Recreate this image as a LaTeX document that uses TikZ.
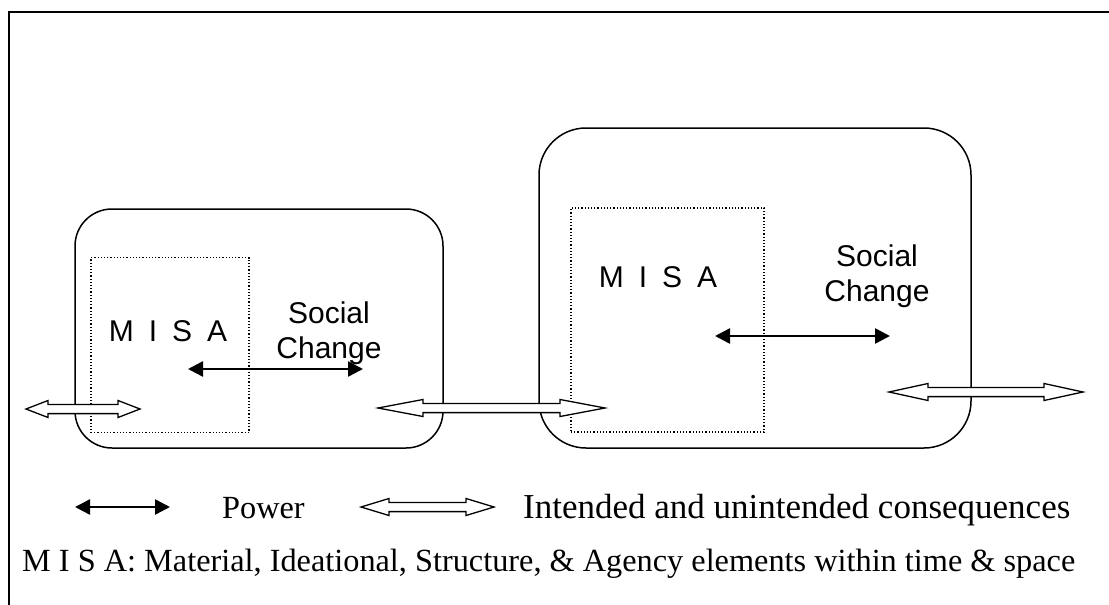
\documentclass[tikz,border=0pt]{standalone}
\usepackage{fontspec}
\setmainfont{Liberation Serif}
\newfontfamily\arialfont{Liberation Sans}
\usetikzlibrary{arrows.meta}
% hollow double arrow: #1 name, #2 left x, #3 right x, #4 y, #5 head length
\newcommand\hollowarrow[5]{%
  \coordinate (#1a) at (#2,#4);
  \coordinate (#1b) at (#3,#4);
  \draw[hollow] (#1a) -- ({#2+#5},{#4-8.5}) -- ({#2+#5},{#4-4.6}) -- ({#3-#5},{#4-4.6})
    -- ({#3-#5},{#4-8.5}) -- (#1b) -- ({#3-#5},{#4+8.5}) -- ({#3-#5},{#4+4.6})
    -- ({#2+#5},{#4+4.6}) -- ({#2+#5},{#4+8.5}) -- cycle;}
\begin{document}
\begin{tikzpicture}[x=1pt,y=-1pt,
  cbox/.style={draw,line width=1.5pt,inner sep=0pt},
  dbox/.style={draw,dotted,line width=1.2pt,inner sep=0pt},
  hollow/.style={draw,fill=white,line width=1.3pt,line join=miter},
  power/.style={line width=2.5pt,{Triangle[length=15pt,width=15pt]}-{Triangle[length=15pt,width=15pt]}},
  sanslab/.style={font=\arialfont\fontsize{30}{35}\selectfont,inner sep=0pt,align=center},
  serlab/.style={font=\fontsize{32.3}{38}\selectfont,inner sep=0pt,anchor=base west}]
\useasboundingbox (0,0) rectangle (1109,605);
% frame
\coordinate (ftl) at (9,12);
\coordinate (ftr) at (1109,12);
\coordinate (fbl) at (9,605);
\draw[line width=2pt] (ftr) -- (ftl) -- (fbl);
% left group
\node[cbox,rounded corners=37pt,minimum width=368pt,minimum height=239pt] (lbox) at (259,328.5) {};
\node[dbox,minimum width=158pt,minimum height=175pt] (ldot) at (170,345) {};
\node[sanslab] (lmisa) at (168,331) {M\hspace{15pt}I\hspace{15pt}S\hspace{15pt}A};
\node[sanslab] (lsoc) at (329,333) {Social\\Change};
\coordinate (lpa) at (188,369);
\coordinate (lpb) at (363,369);
\draw[power] (lpa) -- (lpb);
% right group
\node[cbox,rounded corners=47pt,minimum width=432pt,minimum height=320pt] (rbox) at (755,288) {};
\node[dbox,minimum width=193pt,minimum height=224pt] (rdot) at (667.5,320) {};
\node[sanslab] (rmisa) at (658,277) {M\hspace{15pt}I\hspace{15pt}S\hspace{15pt}A};
\node[sanslab] (rsoc) at (877,276) {Social\\Change};
\coordinate (rpa) at (715,336);
\coordinate (rpb) at (890,336);
\draw[power] (rpa) -- (rpb);
% consequence arrows
\hollowarrow{h1}{26}{140}{409}{22}
\hollowarrow{h2}{378}{605}{408}{45}
\hollowarrow{h3}{889}{1083}{392}{39}
% legend
\coordinate (gpa) at (75,507);
\coordinate (gpb) at (170,507);
\draw[power] (gpa) -- (gpb);
\node[serlab] (gpow) at (222,518) {Power};
\hollowarrow{gh}{361}{494}{507}{28}
\node[serlab,font=\fontsize{35}{40}\selectfont] (gcon) at (523,518) {Intended and unintended consequences};
\node[serlab] (foot) at (22,571) {M I S A: Material, Ideational, Structure, \& Agency elements within time \& space};
\end{tikzpicture}
\end{document}
